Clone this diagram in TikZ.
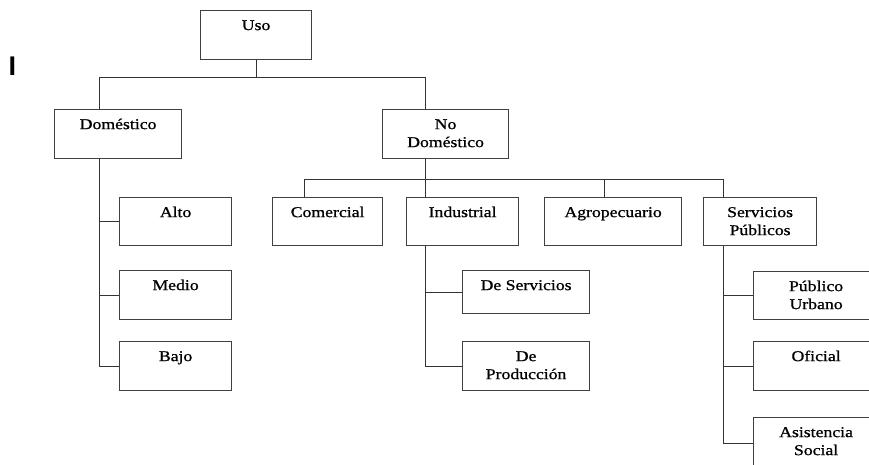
\documentclass[tikz,border=0pt]{standalone}
\usepackage{fontspec}
\setmainfont{Liberation Serif}[FakeStretch=1.18,FakeBold=0.9]
\newfontfamily\marksans{Liberation Sans}
\tikzset{
  obox/.style={draw=black!75, line width=1.2pt, fill=white, inner sep=0pt,
               anchor=north west, font=\fontsize{15}{18}\selectfont},
  link/.style={draw=black!80, line width=1pt}
}
% \orgbox{name}{left}{top}{width}{height}{text}
\newcommand\orgbox[6]{%
  \node[obox] (#1) at (#2,#3)
    {\parbox[c][#5pt][t]{#4pt}{\centering\rule{0pt}{19.5pt}#6}};}
\begin{document}
\begin{tikzpicture}[x=1pt,y=-1pt]
\useasboundingbox (0,0) rectangle (869,464);
\fill[white] (0,0) rectangle (869,464);
\clip (0,0) rectangle (869,464);

% stray mark at the left margin
\node[font=\marksans\bfseries\fontsize{27}{27}\selectfont, inner sep=0pt, anchor=north west] (mark) at (8.5,57) {I};

% level 0 and 1
\orgbox{uso}{200}{10}{111}{49}{Uso}
\orgbox{dom}{54}{109}{127}{49}{Doméstico}
\orgbox{nodom}{382}{109}{126}{49}{No\\Doméstico}

% children of Doméstico
\orgbox{alto}{119}{197}{112}{48}{Alto}
\orgbox{medio}{119}{270}{112}{49}{Medio}
\orgbox{bajo}{119}{341}{112}{49}{Bajo}

% children of No Doméstico
\orgbox{com}{272}{197}{110}{48}{Comercial}
\orgbox{ind}{406}{197}{112}{48}{Industrial}
\orgbox{agro}{544}{197}{137}{48}{Agropecuario}
\orgbox{serv}{703}{197}{113}{48}{Servicios\\Públicos}

% children of Industrial
\orgbox{dserv}{462}{270}{127}{43}{De Servicios}
\orgbox{dprod}{462}{341}{127}{49}{De\\Producción}

% children of Servicios Públicos (running past the right edge)
\orgbox{purb}{753}{271}{125}{48}{Público\\Urbano}
\orgbox{ofi}{753}{341}{125}{49}{Oficial}
\orgbox{asis}{753}{417}{125}{51}{Asistencia\\Social}

% bus coordinates
\coordinate (busA) at (99,77);
\coordinate (busB) at (425,77);
\coordinate (busC) at (304,179);
\coordinate (busD) at (723,179);
\coordinate (agroX) at (604,179);
\coordinate (servX) at (723,0);

% Uso -> Doméstico / No Doméstico
\draw[link] (uso.south) -- (uso.south |- busA);
\draw[link] (dom.north -| busA) -- (busA) -- (busB) -- (nodom.north -| busB);

% Doméstico trunk and branches
\draw[link] (dom.south -| busA) -- (busA |- bajo.west) -- (bajo.west);
\draw[link] (busA |- alto.west) -- (alto.west);
\draw[link] (busA |- medio.west) -- (medio.west);

% No Doméstico -> its four children
\draw[link] (nodom.south -| busB) -- (ind.north -| busB);
\draw[link] (com.north -| busC) -- (busC) -- (busD) -- (serv.north -| busD);
\draw[link] (agroX) -- (agro.north -| agroX);

% Industrial trunk and branches
\draw[link] (ind.south -| busB) -- (busB |- dprod.west) -- (dprod.west);
\draw[link] (busB |- dserv.west) -- (dserv.west);

% Servicios Públicos trunk and branches
\draw[link] (serv.south -| servX) -- (servX |- asis.west) -- (asis.west);
\draw[link] (servX |- purb.west) -- (purb.west);
\draw[link] (servX |- ofi.west) -- (ofi.west);
\end{tikzpicture}
\end{document}
